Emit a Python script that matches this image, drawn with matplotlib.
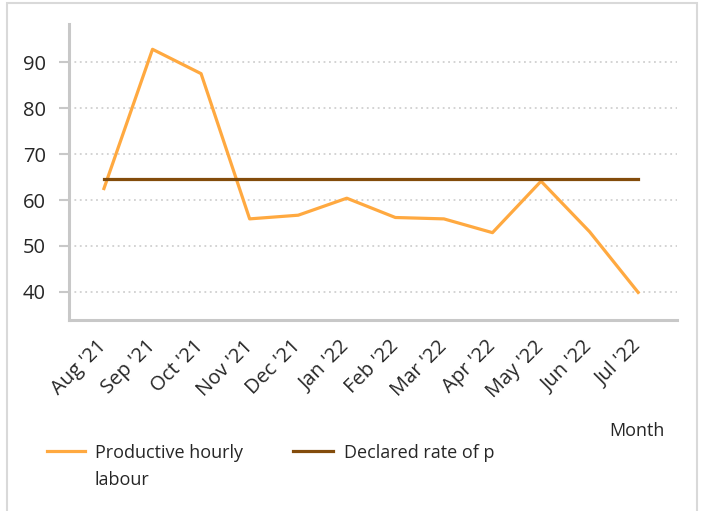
import numpy as np
import matplotlib
matplotlib.use('Agg')
import matplotlib.pyplot as plt
from matplotlib.patches import Rectangle
from matplotlib.lines import Line2D

plt.rcParams['font.family'] = ['Open Sans', 'DejaVu Sans']

# data
months = ["Aug '21", "Sep '21", "Oct '21", "Nov '21", "Dec '21", "Jan '22",
          "Feb '22", "Mar '22", "Apr '22", "May '22", "Jun '22", "Jul '22"]
productive = [62.5, 92.8, 87.5, 55.9, 56.7, 60.4, 56.2, 55.9, 52.9, 64.1, 53.1, 39.9]
declared = [64.5] * 12
yticks = [40, 50, 60, 70, 80, 90]
series_names = ['Productive hourly\nlabour', 'Declared rate of p']

orange = '#FFA940'
brown = '#834C0B'
spine_col = '#C8C8C8'
txt_col = '#262626'

fig = plt.figure(figsize=(7.01, 5.11), dpi=100, facecolor='white')
# light outer frame
fig.patches.append(Rectangle((0.010, -0.01), 0.984, 1.004, transform=fig.transFigure,
                             fill=False, edgecolor='#D9D9D9', linewidth=1.5))

ax = fig.add_axes([0.0984, 0.3738, 0.8674, 0.5792])
x = np.arange(len(months))
ax.plot(x, productive, color=orange, lw=2.3, zorder=3)
ax.plot(x, declared, color=brown, lw=2.3, zorder=3)

ax.set_xlim(-0.72, 11.8)
ax.set_ylim(33.9, 98.3)
ax.set_yticks(yticks)
ax.set_xticks(x)
ax.set_xticklabels(months, rotation=45, ha='right', va='center', rotation_mode='anchor',
                   fontsize=14.5, color=txt_col)
ax.tick_params(axis='y', labelsize=14.5, labelcolor=txt_col, length=7.5, width=1.5, color=spine_col, pad=9)
ax.tick_params(axis='x', length=0, pad=17)
ax.grid(axis='y', linestyle=(0, (1, 2)), color='#D0D0D0', lw=1.3)
ax.set_axisbelow(True)

for s in ['top', 'right']:
    ax.spines[s].set_visible(False)
for s in ['left', 'bottom']:
    ax.spines[s].set_color(spine_col)
    ax.spines[s].set_linewidth(2.2)

ax.set_xlabel('Month', fontsize=13, color=txt_col, va='center')
ax.xaxis.set_label_coords(0.934, -0.375)

# legend drawn by hand so the line sits on the first text row
leg_y = 1 - 451 / 511
for (x0, x1, tx), col, name in zip([(47, 85, 95), (293, 333, 344)], [orange, brown], series_names):
    fig.lines.append(Line2D([x0 / 701, x1 / 701], [leg_y, leg_y], transform=fig.transFigure,
                            color=col, lw=2.3))
    fig.text(tx / 701, leg_y + 0.014, name, fontsize=13, color=txt_col, va='top', ha='left',
             linespacing=1.65)

fig.savefig('out.png', dpi=100)
